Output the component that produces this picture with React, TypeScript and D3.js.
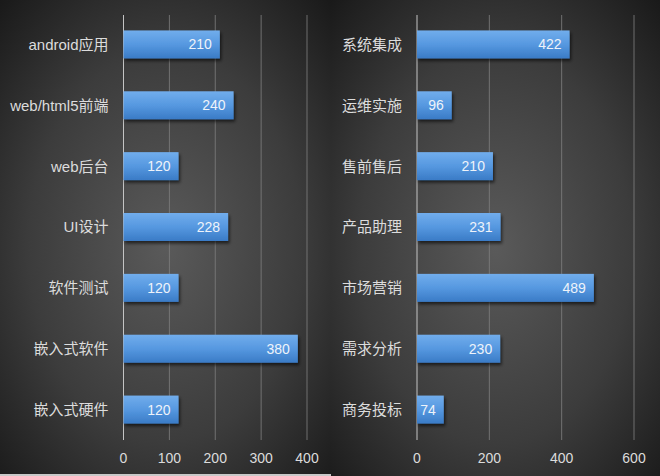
import React, { useEffect, useRef } from 'react';
import * as d3 from 'd3';

const width = 660;
const height = 476;

// left panel
const leftCategories = ['android应用', 'web/html5前端', 'web后台', 'UI设计', '软件测试', '嵌入式软件', '嵌入式硬件'];
const leftValues = [210, 240, 120, 228, 120, 380, 120];
const leftTicks = [0, 100, 200, 300, 400];

// right panel
const rightCategories = ['系统集成', '运维实施', '售前售后', '产品助理', '市场营销', '需求分析', '商务投标'];
const rightValues = [422, 96, 210, 231, 489, 230, 74];
const rightTicks = [0, 200, 400, 600];

const font = "'Liberation Sans', 'Noto Sans CJK SC', sans-serif";
const textColor = '#dcdcdc';

const panels = [
  { x0: 0, x1: 331, h: 474, zero: 123.5, end: 307, max: 400, cats: leftCategories, vals: leftValues, ticks: leftTicks },
  { x0: 331, x1: 660, h: 476, zero: 417, end: 634, max: 600, cats: rightCategories, vals: rightValues, ticks: rightTicks },
];

export default function App() {
  const ref = useRef<SVGSVGElement>(null);

  useEffect(() => {
    document.body.style.margin = '0';
    const svg = d3.select(ref.current);
    svg.selectAll('*').remove();

    const defs = svg.append('defs');
    const bg = defs.append('radialGradient')
      .attr('id', 'bg')
      .attr('cx', '50%').attr('cy', '52%').attr('r', '75%');
    bg.append('stop').attr('offset', '0%').attr('stop-color', '#5a5a5a');
    bg.append('stop').attr('offset', '55%').attr('stop-color', '#3c3c3c');
    bg.append('stop').attr('offset', '100%').attr('stop-color', '#161616');

    const bar = defs.append('linearGradient')
      .attr('id', 'bar')
      .attr('x1', 0).attr('y1', 0).attr('x2', 0).attr('y2', 1);
    bar.append('stop').attr('offset', '0%').attr('stop-color', '#71adec');
    bar.append('stop').attr('offset', '50%').attr('stop-color', '#5698e0');
    bar.append('stop').attr('offset', '100%').attr('stop-color', '#3a7bc6');

    const shadow = defs.append('filter').attr('id', 'shadow')
      .attr('x', '-10%').attr('y', '-30%').attr('width', '130%').attr('height', '180%');
    shadow.append('feDropShadow')
      .attr('dx', 1.5).attr('dy', 2.5).attr('stdDeviation', 1.5)
      .attr('flood-color', '#000').attr('flood-opacity', 0.6);

    // strip under the shorter left image
    svg.append('rect').attr('x', 0).attr('y', 0).attr('width', width).attr('height', height).attr('fill', '#c8c8c8');

    panels.forEach(p => {
      const g = svg.append('g');
      g.append('rect')
        .attr('x', p.x0).attr('y', 0)
        .attr('width', p.x1 - p.x0).attr('height', p.h)
        .attr('fill', 'url(#bg)');

      const x = d3.scaleLinear().domain([0, p.max]).range([p.zero, p.end]);
      const y = d3.scaleBand<string>().domain(p.cats).range([14, 440]).paddingInner(0.54).paddingOuter(0.27);

      // grid
      g.selectAll('line.grid')
        .data(p.ticks.slice(1))
        .enter().append('line')
        .attr('class', 'grid')
        .attr('x1', d => x(d)).attr('x2', d => x(d))
        .attr('y1', 15).attr('y2', 440)
        .attr('stroke', '#808080')
        .attr('stroke-width', 0.8);

      g.append('line')
        .attr('x1', x(0)).attr('x2', x(0))
        .attr('y1', 15).attr('y2', 440)
        .attr('stroke', '#c4c4c4')
        .attr('stroke-width', 1);

      // bars
      g.selectAll('rect.bar')
        .data(p.vals)
        .enter().append('rect')
        .attr('class', 'bar')
        .attr('x', x(0))
        .attr('y', (d, i) => y(p.cats[i]))
        .attr('width', d => x(d) - x(0))
        .attr('height', y.bandwidth())
        .attr('fill', 'url(#bar)')
        .attr('filter', 'url(#shadow)');

      // value labels
      g.selectAll('text.val')
        .data(p.vals)
        .enter().append('text')
        .attr('class', 'val')
        .attr('x', d => x(d) - 8)
        .attr('y', (d, i) => y(p.cats[i]) + y.bandwidth() / 2)
        .attr('dy', '0.36em')
        .attr('text-anchor', 'end')
        .attr('font-family', font)
        .attr('font-size', 14)
        .attr('fill', '#eef3fa')
        .text(d => d);

      // category labels
      g.selectAll('text.cat')
        .data(p.cats)
        .enter().append('text')
        .attr('class', 'cat')
        .attr('x', x(0) - 15)
        .attr('y', d => y(d) + y.bandwidth() / 2)
        .attr('dy', '0.36em')
        .attr('text-anchor', 'end')
        .attr('font-family', font)
        .attr('font-size', 15)
        .attr('fill', textColor)
        .text(d => d);

      // x tick labels
      g.selectAll('text.tick')
        .data(p.ticks)
        .enter().append('text')
        .attr('class', 'tick')
        .attr('x', d => x(d))
        .attr('y', 458)
        .attr('dy', '0.36em')
        .attr('text-anchor', 'middle')
        .attr('font-family', font)
        .attr('font-size', 14)
        .attr('fill', textColor)
        .text(d => d);
    });
  }, []);

  return <svg width={width} height={height} ref={ref} style={{ display: 'block' }} />;
}
